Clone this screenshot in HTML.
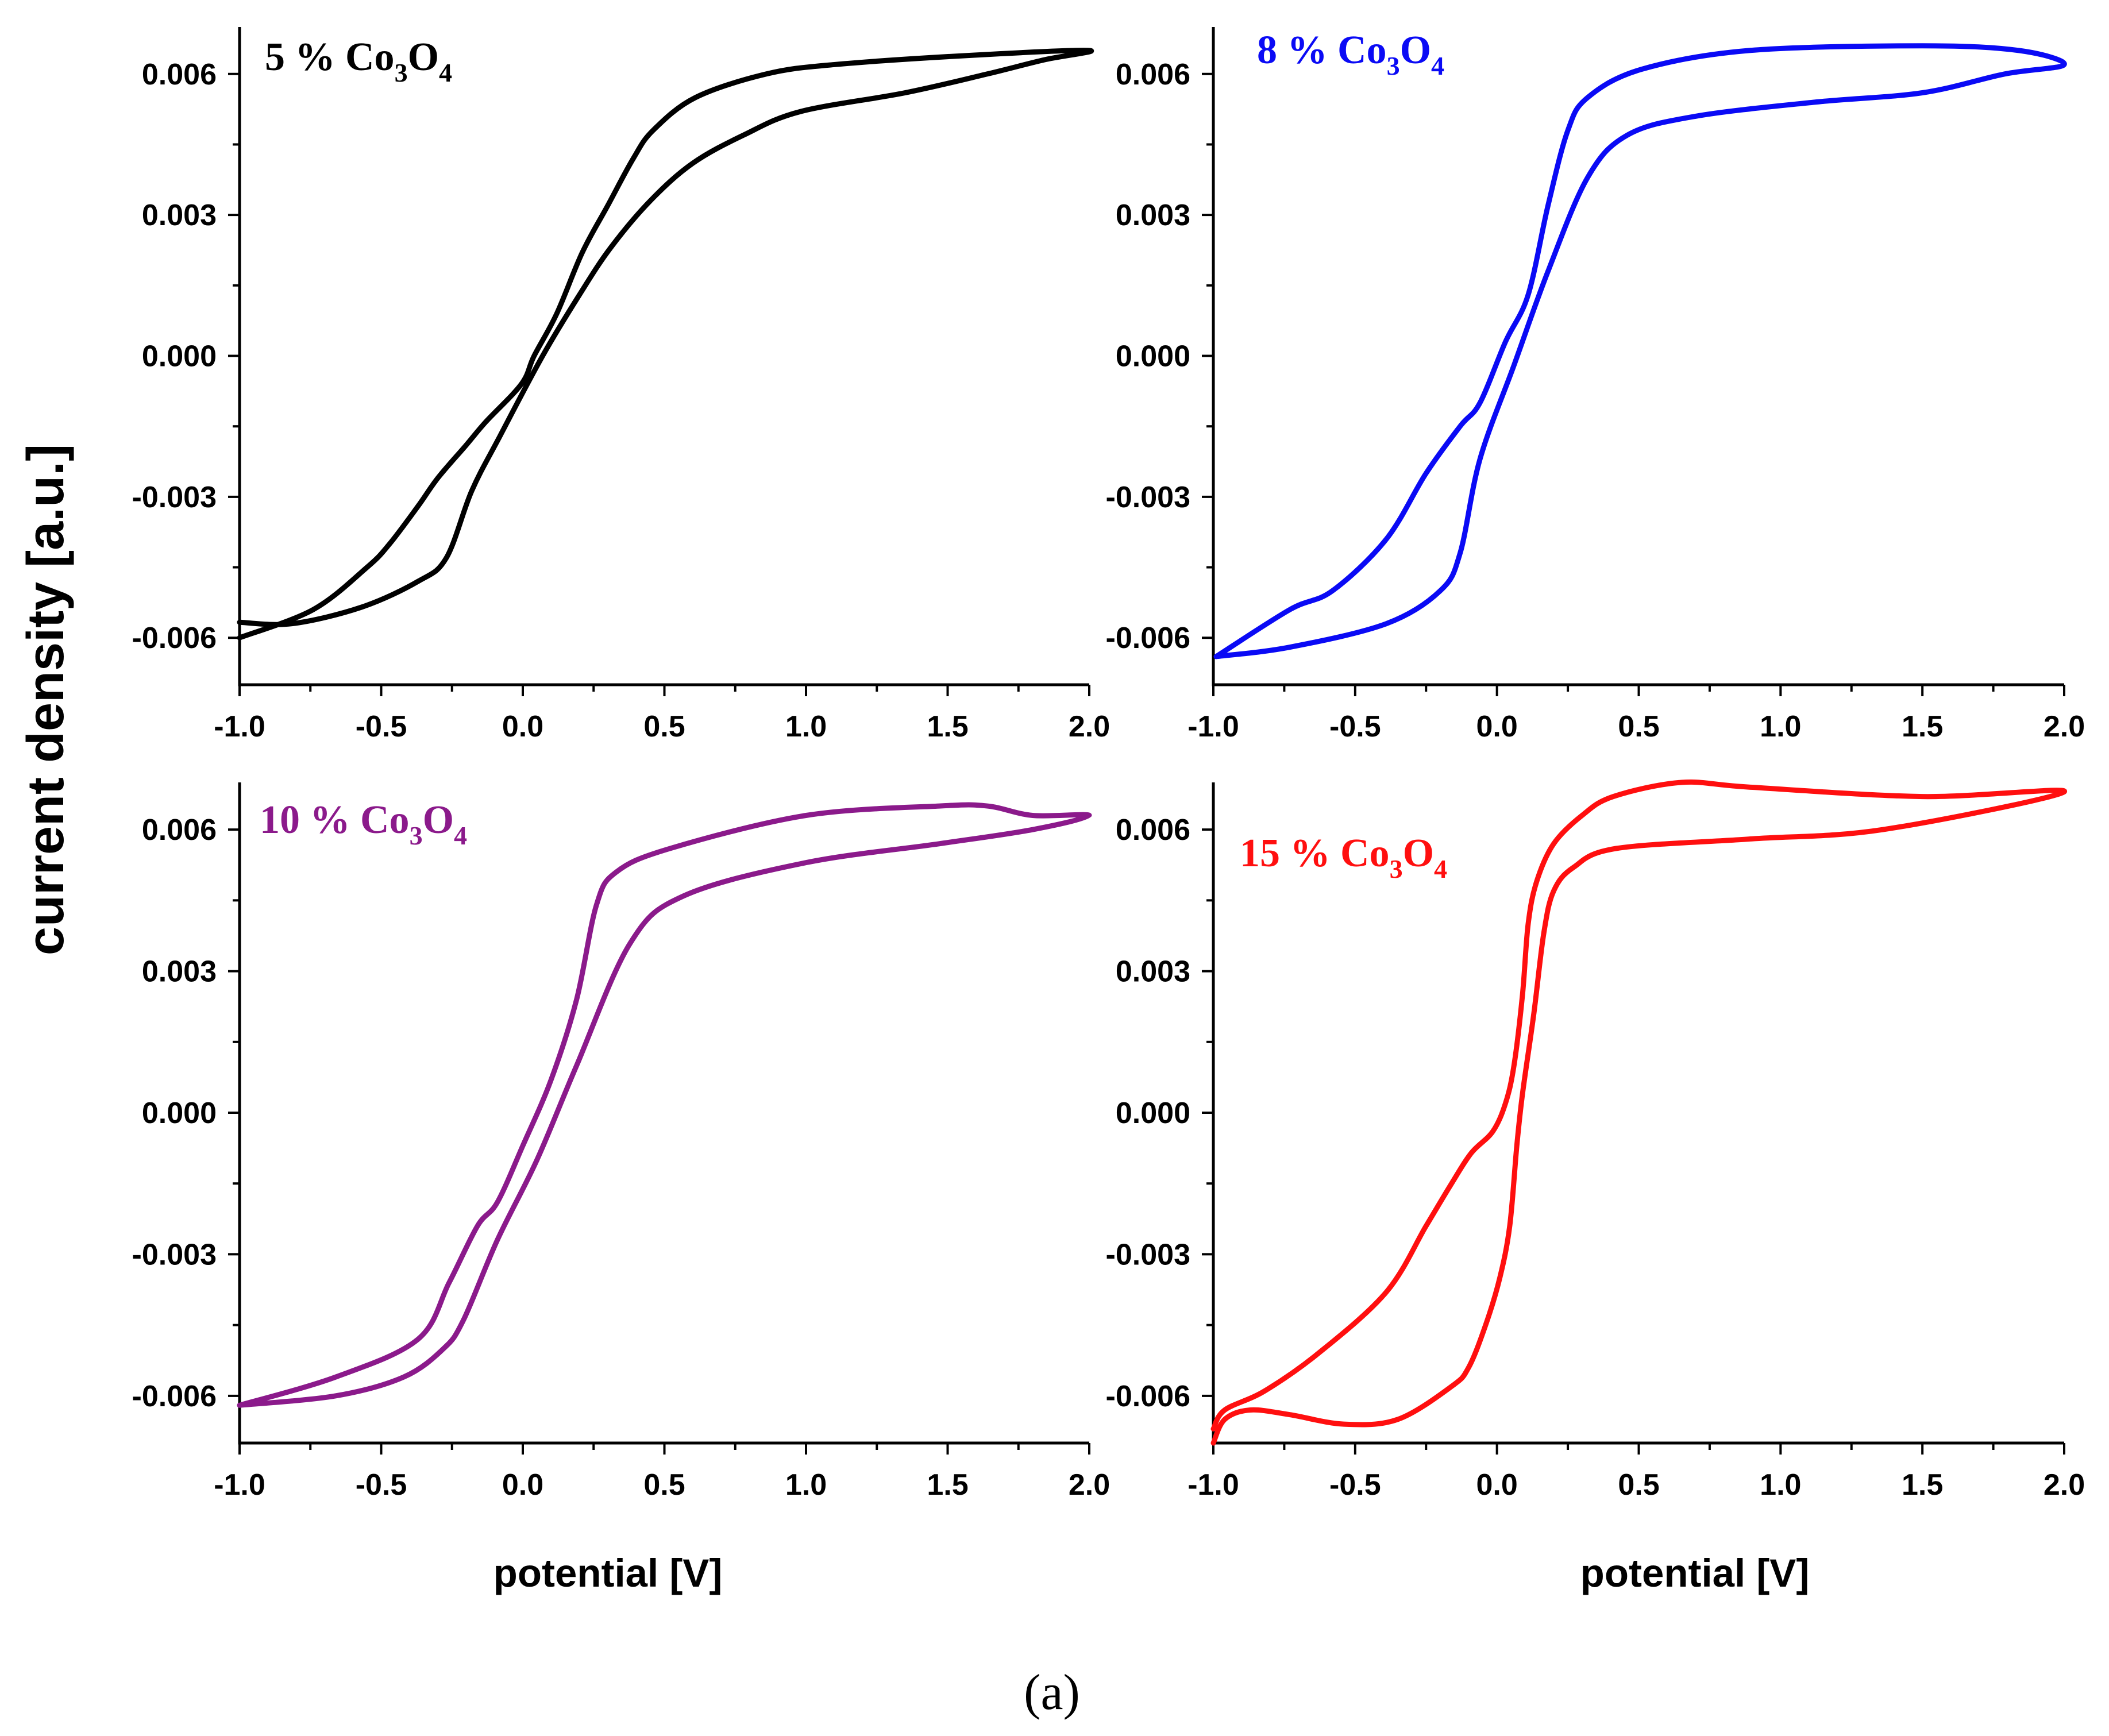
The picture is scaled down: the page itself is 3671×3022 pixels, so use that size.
<!DOCTYPE html>
<html><head><meta charset="utf-8"><style>body{margin:0;background:#fff}svg{display:block}</style></head>
<body>
<svg id="fig" width="3671" height="3022" viewBox="0 0 3671 3022" xmlns="http://www.w3.org/2000/svg" font-family="Liberation Sans, sans-serif">
<text transform="translate(110,1218) rotate(-90)" text-anchor="middle" font-size="90" font-weight="bold">current density [a.u.]</text>
<text x="1058" y="2762" text-anchor="middle" font-size="69" font-weight="bold">potential [V]</text>
<text x="2950" y="2762" text-anchor="middle" font-size="69" font-weight="bold">potential [V]</text>
<text x="1831" y="2975" text-anchor="middle" font-size="88" font-family="Liberation Serif, serif">(a)</text>
</svg>
<script>
const xTicks=[-1.0,-0.5,0.0,0.5,1.0,1.5,2.0];
const yTicks=[-0.006,-0.003,0.000,0.003,0.006];
// 5 %
const p5x=[-1,-0.815,-0.57,-0.37,-0.27,-0.18,-0.08,0.07,0.2,0.31,0.45,0.6,0.78,0.98,1.35,1.64,1.84,2,1.59,1.1,0.86,0.61,0.46,0.39,0.3,0.21,0.12,0.04,-0.005,-0.13,-0.2,-0.3,-0.37,-0.47,-0.55,-0.74,-1];
const p5y=[-0.00567,-0.0057,-0.00535,-0.0048,-0.0043,-0.00287,-0.0017,0,0.0013,0.0023,0.0033,0.0041,0.0047,0.0052,0.0056,0.006,0.0063,0.0065,0.0064,0.0062,0.006,0.0055,0.0048,0.0042,0.0032,0.0022,0.0009,0,-0.0006,-0.0014,-0.0019,-0.0026,-0.0032,-0.004,-0.0045,-0.0054,-0.006];
// 8 %
const p8x=[-0.99,-0.73,-0.39,-0.2,-0.13,-0.06,0.06,0.18,0.32,0.46,0.7,1.12,1.5,1.79,2,1.84,1.5,0.89,0.51,0.32,0.25,0.18,0.11,0.03,-0.06,-0.13,-0.25,-0.39,-0.58,-0.73,-0.99];
const p8y=[-0.0064,-0.0062,-0.0057,-0.005,-0.0042,-0.0022,-0.0002,0.0018,0.0038,0.0047,0.0051,0.0054,0.0056,0.006,0.0062,0.0065,0.0066,0.0065,0.0061,0.0055,0.0048,0.0032,0.0013,0.0003,-0.001,-0.0015,-0.0025,-0.0039,-0.005,-0.0054,-0.0064];
// 10 %
const p10x=[-1,-0.66,-0.42,-0.28,-0.21,-0.09,0.05,0.19,0.38,0.57,1.0,1.47,1.8,2,1.8,1.64,1.47,1.0,0.52,0.33,0.26,0.19,0.1,0,-0.09,-0.16,-0.26,-0.37,-0.66,-1];
const p10y=[-0.0062,-0.006,-0.0056,-0.005,-0.0044,-0.0027,-0.001,0.001,0.0036,0.0046,0.0053,0.0057,0.006,0.0063,0.0063,0.0065,0.0065,0.0063,0.0056,0.0051,0.0044,0.0024,0.0007,-0.0007,-0.0019,-0.0024,-0.0036,-0.0048,-0.0056,-0.0062];
// 15 %
const p15x=[-1,-0.96,-0.87,-0.73,-0.54,-0.35,-0.16,-0.1,-0.04,0.01,0.045,0.07,0.09,0.13,0.165,0.2,0.27,0.42,0.89,1.36,2,1.5,0.89,0.65,0.41,0.3,0.2,0.14,0.11,0.09,0.06,0.03,-0.015,-0.09,-0.16,-0.25,-0.39,-0.63,-0.82,-0.96,-1];
const p15y=[-0.007,-0.0065,-0.0063,-0.0064,-0.0066,-0.0065,-0.0058,-0.0054,-0.0045,-0.0035,-0.0024,-0.0007,0.0004,0.0021,0.0038,0.0047,0.0052,0.0056,0.0058,0.006,0.0068,0.0067,0.0069,0.007,0.0067,0.0063,0.0057,0.0049,0.004,0.0025,0.001,0.0002,-0.0004,-0.00085,-0.0015,-0.0024,-0.0038,-0.0051,-0.0059,-0.0063,-0.0067];

const NS='http://www.w3.org/2000/svg';
const svg=document.getElementById('fig');
function mk(tag,attrs,parent){const e=document.createElementNS(NS,tag);for(const k in attrs)e.setAttribute(k,attrs[k]);(parent||svg).appendChild(e);return e;}
const panels=[
 {id:'5',xs:p5x,ys:p5y,col:'#000000',L:417,R:1896,T:47,B:1192,lx:461,ly:122},
 {id:'8',xs:p8x,ys:p8y,col:'#0a0af5',L:2112,R:3593,T:47,B:1192,lx:2188,ly:110},
 {id:'10',xs:p10x,ys:p10y,col:'#8b1a8b',L:417,R:1896,T:1362,B:2512,lx:452,ly:1450},
 {id:'15',xs:p15x,ys:p15y,col:'#ff0f0f',L:2112,R:3593,T:1362,B:2512,lx:2158,ly:1508}];
panels.forEach(p=>{
 const g=mk('g',{});
 
 
 const sx=v=>p.L+(v+1)/3*(p.R-p.L);
 const sy=v=>p.B-(v+0.007)/0.014*(p.B-p.T);
 const ax=mk('path',{d:`M${p.L},${p.T}V${p.B}H${p.R}`,fill:'none',stroke:'#000','stroke-width':5},g);
 
 
 for(let v=-1;v<=2.001;v+=0.25){const maj=Math.abs(v*2-Math.round(v*2))<1e-6;
  mk('line',{x1:sx(v),x2:sx(v),y1:p.B,y2:p.B+(maj?20:12),stroke:'#000','stroke-width':4},g);}
 for(let v=-0.006;v<=0.0061;v+=0.0015){const maj=Math.abs(v/0.003-Math.round(v/0.003))<1e-6;
  mk('line',{x1:p.L,x2:p.L-(maj?20:12),y1:sy(v),y2:sy(v),stroke:'#000','stroke-width':4},g);}
 xTicks.forEach(v=>{const t=mk('text',{x:sx(v),y:p.B+90,'text-anchor':'middle','font-size':52,'font-weight':'bold'},g);t.textContent=v.toFixed(1);
  
  });
 yTicks.forEach(v=>{const t=mk('text',{x:p.L-40,y:sy(v)+18,'text-anchor':'end','font-size':52,'font-weight':'bold'},g);t.textContent=v.toFixed(3);
  
  });
 const pts=p.xs.map((x,i)=>[sx(x),sy(p.ys[i])]);
 let d=`M${pts[0][0]},${pts[0][1]}`;
 for(let i=0;i<pts.length-1;i++){const a=pts[Math.max(i-1,0)],b=pts[i],c=pts[i+1],e=pts[Math.min(i+2,pts.length-1)];
  d+=`C${b[0]+(c[0]-a[0])/6},${b[1]+(c[1]-a[1])/6} ${c[0]-(e[0]-b[0])/6},${c[1]-(e[1]-b[1])/6} ${c[0]},${c[1]}`;}
 const cv=mk('path',{d:d,fill:'none',stroke:p.col,'stroke-width':9,'stroke-linejoin':'round','stroke-linecap':'round'},g);
 
 
 const lb=mk('text',{x:p.lx,y:p.ly,fill:p.col,'font-size':70,'font-weight':'bold','font-family':'Liberation Serif, serif'},g);
 
 
 lb.innerHTML=`${p.id} % Co<tspan dy="20" font-size="46">3</tspan><tspan dy="-20">O</tspan><tspan dy="20" font-size="46">4</tspan>`;
});
</script>
</body></html>
